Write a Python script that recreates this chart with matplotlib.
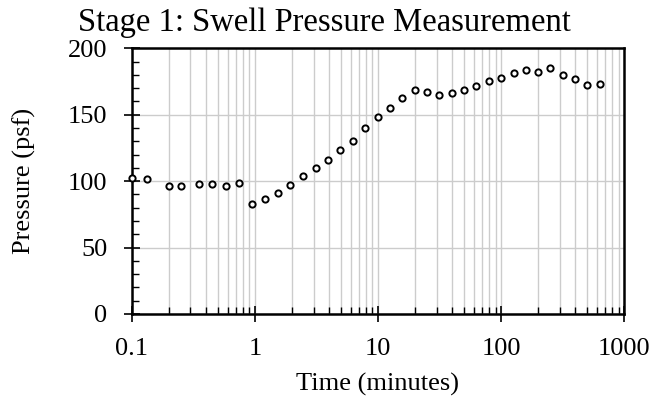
import matplotlib
matplotlib.use("Agg")
import matplotlib.pyplot as plt
import matplotlib.ticker as mticker

# Data
time_min = [0.1, 0.133, 0.2, 0.25, 0.35, 0.45, 0.58, 0.75, 0.95, 1.22, 1.53, 1.94,
            2.45, 3.11, 3.92, 4.93, 6.25, 7.87, 10, 12.6, 15.8, 20, 25, 31.5, 40,
            50, 63, 79, 100, 126, 158, 200, 251, 316, 398, 501, 631]
pressure_psf = [102.1, 101.6, 96.1, 96.3, 97.8, 97.8, 96.6, 98.6, 82.6, 86.8, 90.8, 97.3,
                104.1, 109.6, 116.1, 123.2, 130.5, 140.3, 148.5, 154.8, 162.3, 168.3, 167.1,
                164.8, 166.1, 168.3, 171.4, 175.1, 177.6, 181.6, 183.4, 182.4, 185.4,
                179.7, 176.7, 172.4, 172.9]

plt.rcParams['font.family'] = ['Liberation Serif', 'DejaVu Serif']

fig = plt.figure(figsize=(6.52, 3.98), dpi=100)
ax = fig.add_axes([131.7 / 652, 1 - 314 / 398, (624.3 - 131.7) / 652, (314 - 48.3) / 398])

ax.plot(time_min, pressure_psf, linestyle='none', marker='o', markersize=4.5,
        markerfacecolor='white', markeredgecolor='black', markeredgewidth=1.4,
        zorder=3, clip_on=False)

ax.set_xscale('log')
ax.set_xlim(0.1, 1000)
ax.set_ylim(0, 200)
ax.xaxis.set_major_formatter(mticker.FuncFormatter(lambda v, p: f"{v:g}"))
ax.xaxis.set_minor_locator(mticker.LogLocator(base=10, subs=range(2, 10)))
ax.xaxis.set_minor_formatter(mticker.NullFormatter())
ax.yaxis.set_major_locator(mticker.MultipleLocator(50))
ax.yaxis.set_minor_locator(mticker.MultipleLocator(10))

ax.grid(which='major', axis='both', color='#cccccc', linewidth=1.0)
ax.grid(which='minor', axis='x', color='#cccccc', linewidth=1.0)
ax.set_axisbelow(True)

for s in ax.spines.values():
    s.set_linewidth(1.8)

ax.tick_params(which='major', direction='inout', length=12, width=1.2, labelsize=19)
ax.tick_params(axis='y', which='major', pad=11.5)
ax.tick_params(axis='x', which='major', pad=11.5)
ax.tick_params(which='minor', direction='in', length=5, width=1.0)

# title is centred on the whole figure, not on the axes
fig.suptitle("Stage 1: Swell Pressure Measurement", fontsize=23.5,
             x=0.497, y=1 - 30.5 / 398, va='baseline')
ax.set_xlabel("Time (minutes)", fontsize=19, labelpad=9)
ax.set_ylabel("Pressure (psf)", fontsize=19, labelpad=23)

fig.savefig("out.png", dpi=100)
